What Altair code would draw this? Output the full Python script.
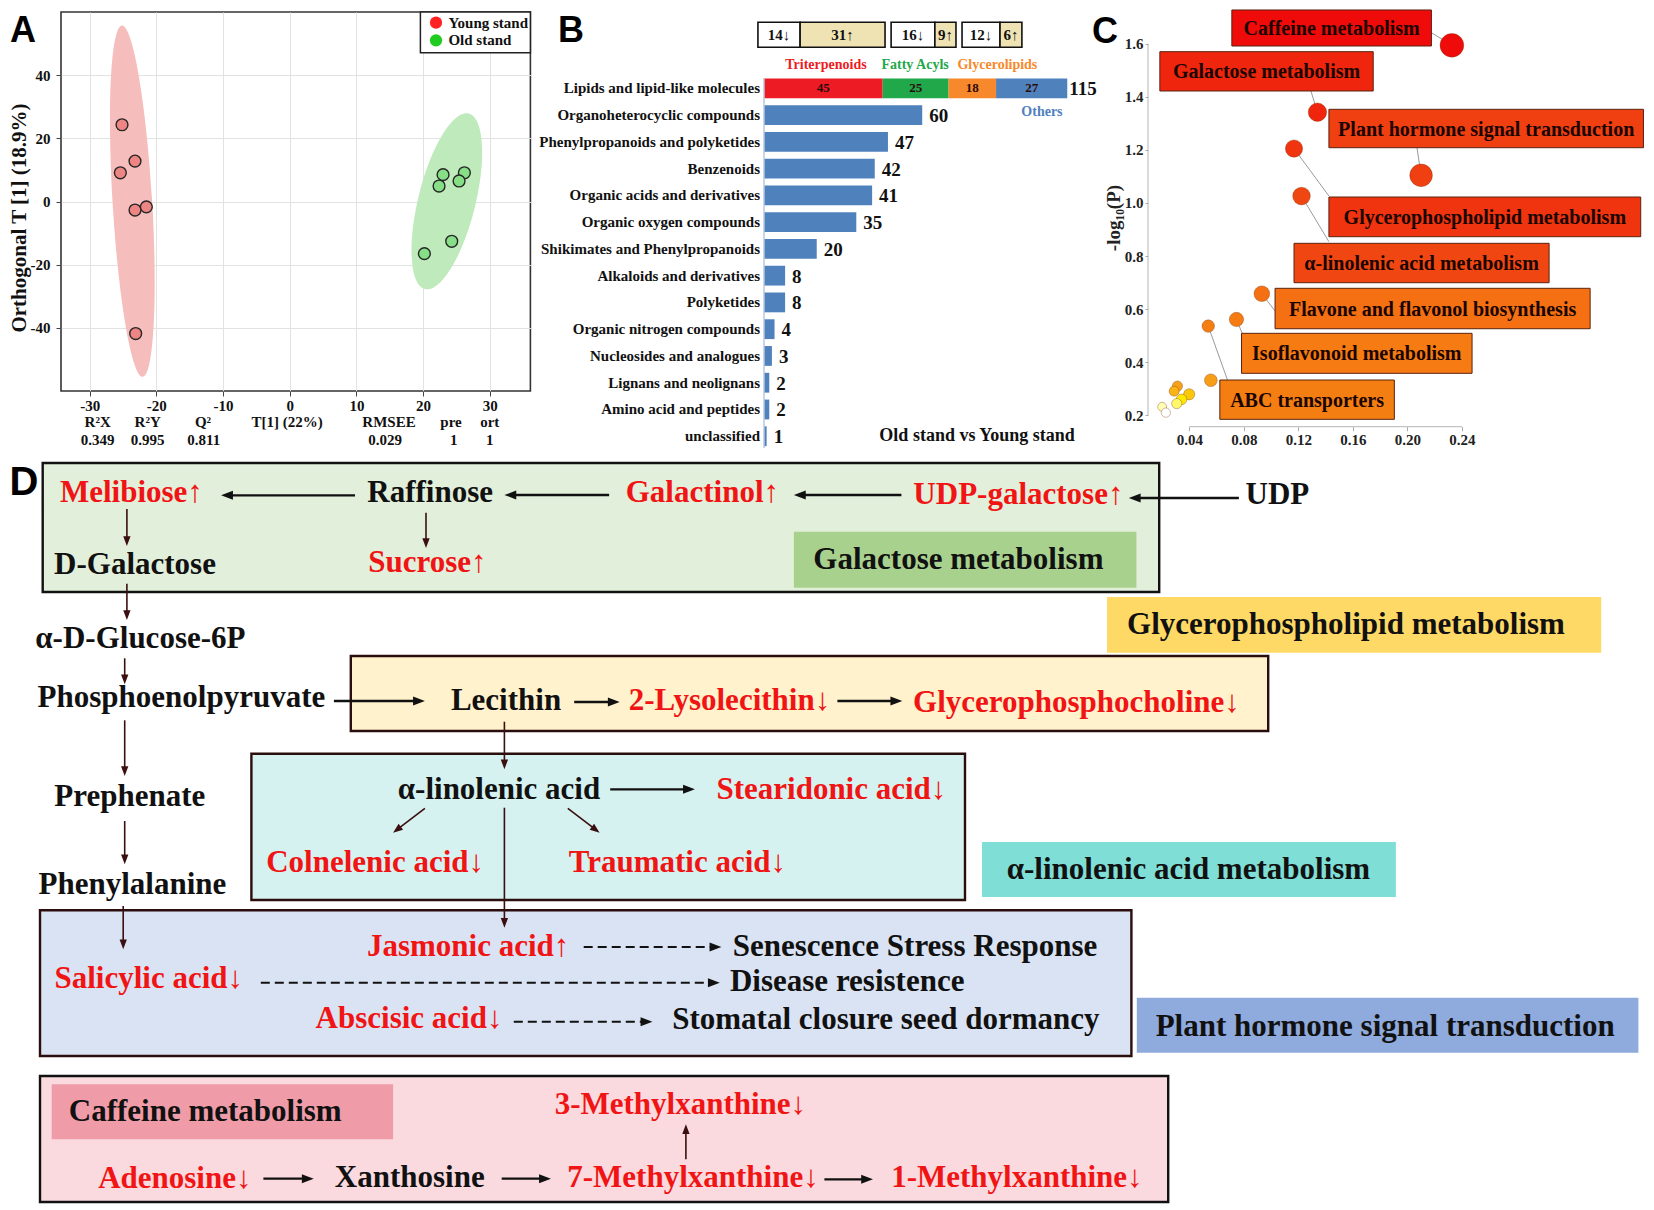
import math
import altair as alt
import pandas as pd

SERIF = "Liberation Serif"
SANS = "Liberation Sans"
TXT_RED = "#f01414"
TXT_DARK = "#111111"

# =====================================================================
# Panel A : OPLS-DA score plot
# =====================================================================
a_groups = ["Young stand", "Old stand"]
a_young_t1 = [-25.15, -25.4, -23.2, -23.2, -21.5, -23.1]
a_young_to = [24.3, 9.1, 12.8, -2.7, -1.7, -41.8]
a_old_t1 = [23.0, 22.4, 26.2, 25.4, 24.3, 20.2]
a_old_to = [8.5, 4.9, 9.1, 6.5, -12.6, -16.5]
a_ell_t1 = [-23.6, 23.57]
a_ell_to = [0.13, 0.06]
a_stat_names = ["R²X", "R²Y", "Q²", "T[1] (22%)", "RMSEE", "pre", "ort"]
a_stat_name_pos = [-28.8, -21.3, -13.0, -0.4, 14.9, 24.2, 30.0]
a_stat_values = ["0.349", "0.995", "0.811", "0.029", "1", "1"]
a_stat_value_pos = [-28.8, -21.3, -12.9, 14.3, 24.6, 30.0]
a_ytitle = "Orthogonal T [1] (18.9%)"

# =====================================================================
# Panel B : classification of differential metabolites
# =====================================================================
b_cats = ["Lipids and lipid-like molecules", "Organoheterocyclic compounds",
          "Phenylpropanoids and polyketides", "Benzenoids",
          "Organic acids and derivatives", "Organic oxygen compounds",
          "Shikimates and Phenylpropanoids", "Alkaloids and derivatives",
          "Polyketides", "Organic nitrogen compounds", "Nucleosides and analogues",
          "Lignans and neolignans", "Amino acid and peptides", "unclassified"]
b_counts = [115, 60, 47, 42, 41, 35, 20, 8, 8, 4, 3, 2, 2, 1]
b_lipid_sub = ["Triterpenoids", "Fatty Acyls", "Glycerolipids", "Others"]
b_lipid_counts = [45, 25, 18, 27]
b_lipid_down = [14, 16, 12]
b_lipid_up = [31, 9, 6]
b_comparison = "Old stand vs Young stand"

# =====================================================================
# Panel C : KEGG enrichment bubbles
# =====================================================================
c_names = ["Caffeine metabolism", "Galactose metabolism",
           "Plant hormone signal transduction", "Glycerophospholipid metabolism",
           "α-linolenic acid metabolism", "Flavone and flavonol biosynthesis",
           "Isoflavonoid metabolism", "ABC transporters"]
c_impact = [0.2326, 0.134, 0.210, 0.1168, 0.1223, 0.0932, 0.0746, 0.0539]
c_logp = [1.594, 1.342, 1.104, 1.205, 1.026, 0.658, 0.561, 0.536]
c_other_impact = [0.0558, 0.0313, 0.0289, 0.0399, 0.0343, 0.0308, 0.0201, 0.0228]
c_other_logp = [0.332, 0.310, 0.291, 0.279, 0.260, 0.244, 0.232, 0.210]

# =====================================================================
# Panel D : pathway diagram (nodes, boxes, arrows) in diagram units
# =====================================================================
d_nodes = ["Melibiose↑", "Raffinose", "Galactinol↑", "UDP-galactose↑", "UDP",
           "D-Galactose", "Sucrose↑", "α-D-Glucose-6P", "Phosphoenolpyruvate",
           "Lecithin", "2-Lysolecithin↓", "Glycerophosphocholine↓", "Prephenate",
           "α-linolenic acid", "Stearidonic acid↓", "Colnelenic acid↓",
           "Traumatic acid↓", "Phenylalanine", "Jasmonic acid↑",
           "Senescence Stress Response", "Salicylic acid↓", "Disease resistence",
           "Abscisic acid↓", "Stomatal closure seed dormancy", "3-Methylxanthine↓",
           "Adenosine↓", "Xanthosine", "7-Methylxanthine↓", "1-Methylxanthine↓"]
d_node_x = [130, 428.7, 701, 1017, 1276, 133.6, 426, 139, 180, 504.6, 728, 1075,
            128.4, 497.6, 830, 373.7, 676, 131, 466.7, 913.6, 147.4, 845.8, 407.6,
            884.5, 679, 173.4, 408.4, 691.6, 1015.5]
d_node_y = [492, 492, 492, 494, 494, 564, 562, 638, 697, 700, 700, 702, 796,
            789, 789, 862, 862, 884, 946, 946, 977.5, 981, 1017.5, 1019,
            1104, 1177.5, 1177, 1177, 1177]
d_pathways = ["Galactose metabolism", "Glycerophospholipid metabolism",
              "α-linolenic acid metabolism", "Plant hormone signal transduction",
              "Caffeine metabolism"]
d_box_x0 = [41.3, 349.4, 250.0, 38.6, 38.6]
d_box_x1 = [1157.8, 1266.8, 963.6, 1130.0, 1166.8]
d_box_y0 = [462.0, 655.0, 752.7, 909.3, 1075.0]
d_box_y1 = [591.0, 730.0, 899.0, 1055.0, 1201.0]
d_tag_x0 = [792.5, 1105.6, 980.6, 1135.4, 50.3]
d_tag_x1 = [1135.0, 1599.8, 1394.5, 1637.0, 391.7]
d_tag_y0 = [530.7, 596.0, 841.0, 996.7, 1083.3]
d_tag_y1 = [586.7, 651.7, 896.0, 1051.7, 1138.3]
d_tag_text_x = [957, 1344.6, 1187, 1383.8, 203.8]
d_tag_text_y = [559, 624, 869, 1026, 1111]
d_arrow_x0 = [353.6, 607.7, 900, 1237.5, 125.5, 424.6, 125.5, 123.3, 332.5, 123.3,
              572.8, 836, 503, 608.8, 423.5, 566.4, 503, 123.3, 121.8, 582.3, 259.4,
              512.4, 684.5, 262, 500.3, 823]
d_arrow_y0 = [494.3, 494, 494, 497, 508, 511.7, 582.7, 657.3, 700, 719.3, 701, 700,
              720.7, 788.3, 807.3, 807.3, 806.7, 820, 905, 946, 981.7, 1020.7, 1158.3,
              1177.7, 1177.7, 1178.3]
d_arrow_x1 = [219.7, 503, 792.5, 1127.4, 125.5, 424.6, 125.5, 123.3, 423.5, 123.3,
              618.3, 900.9, 503, 693.5, 391.7, 598.2, 503, 123.3, 121.8, 720, 718.4,
              651, 684.5, 312.3, 549.5, 871.6]
d_arrow_y1 = [494.3, 494, 494, 497, 545, 547, 619, 683.3, 700, 775, 701, 700, 768.3,
              788.3, 831.7, 831.7, 926.7, 863.3, 948.3, 946, 981.7, 1020.7, 1123.3,
              1177.7, 1177.7, 1178.3]
d_arrow_kind = ["main", "main", "main", "main", "step", "step", "step", "step", "main",
                "step", "main", "main", "step", "main", "step", "step", "step", "step",
                "step", "dash", "dash", "dash", "step", "main", "main", "main"]

# =====================================================================
# Layout / style constants
# =====================================================================
A_W, A_H = 469.4, 379.0
A_LEFT, A_TOP = 59.6, 11.0
A_XDOM, A_YDOM = [-34.3, 36.1], [-60.0, 60.0]
B_W, B_H = 455.0, 447.0
B_XDOM = [-57.64, 114.9]
C_W, C_H = 496.0, 414.7
C_XDOM, C_YDOM = [0.00971, 0.3735], [0.157, 1.7194]
GAP = 81
LETTER_SIZE = 36

# ---------------------------------------------------------------------
# Panel A
# ---------------------------------------------------------------------
A_LAB = "datum.value < 0 ? '-' + abs(datum.value) : '' + datum.value"


def ax_x(field):
    return alt.X(f"{field}:Q", scale=alt.Scale(domain=A_XDOM, nice=False, zero=False),
                 axis=alt.Axis(values=[-30, -20, -10, 0, 10, 20, 30], title=None, grid=True,
                               gridColor="#e2e2e2", domain=False, ticks=True, tickSize=5,
                               tickColor="#444", labelFont=SERIF, labelFontWeight="bold",
                               labelFontSize=15, labelColor=TXT_DARK, labelPadding=2,
                               labelExpr=A_LAB))


def ax_y(field):
    return alt.Y(f"{field}:Q", scale=alt.Scale(domain=A_YDOM, nice=False, zero=False),
                 axis=alt.Axis(values=[-40, -20, 0, 20, 40], title=None, grid=True,
                               gridColor="#e2e2e2", domain=False, ticks=True, tickSize=5,
                               tickColor="#444", labelFont=SERIF, labelFontWeight="bold",
                               labelFontSize=15, labelColor=TXT_DARK, labelPadding=6,
                               labelExpr=A_LAB))


a_point_fill = ["#ee8585", "#86df86"]
a_legend_fill = ["#ff2222", "#1fcc1f"]
a_ell_fill = ["#f6bdbd", "#bfeabb"]
a_ell_major = [176.0, 90.4]
a_ell_minor = [19.8, 28.6]
a_ell_angle = [356.6, 14.0]

layers = []
for i in range(2):
    r = a_ell_minor[i] / a_ell_major[i]
    path = f"M 0 -1 A {r:.4f} 1 0 1 1 0 1 A {r:.4f} 1 0 1 1 0 -1 Z"
    df = pd.DataFrame({"t1": [a_ell_t1[i]], "to": [a_ell_to[i]]})
    layers.append(
        alt.Chart(df).mark_point(shape=path, filled=True, fill=a_ell_fill[i], opacity=1,
                                 strokeWidth=0, size=(2 * a_ell_major[i]) ** 2,
                                 angle=a_ell_angle[i])
        .encode(x=ax_x("t1"), y=ax_y("to")))

a_pts = pd.DataFrame({"t1": a_young_t1 + a_old_t1, "to": a_young_to + a_old_to,
                      "grp": [a_groups[0]] * len(a_young_t1) + [a_groups[1]] * len(a_old_t1)})
layers.append(
    alt.Chart(a_pts).mark_circle(size=140, opacity=1, stroke="#262626", strokeWidth=1.4)
    .encode(x=ax_x("t1"), y=ax_y("to"),
            fill=alt.Fill("grp:N", scale=alt.Scale(domain=a_groups, range=a_point_fill), legend=None)))

one = pd.DataFrame({"k": [0]})
layers.append(alt.Chart(one).mark_rect(fill="white", stroke="#222", strokeWidth=1.5)
              .encode(x=alt.value(359.4), x2=alt.value(A_W), y=alt.value(0), y2=alt.value(40.7)))
for i, g in enumerate(a_groups):
    yy = 10.7 + 17.6 * i
    gdf = pd.DataFrame({"g": [g]})
    layers.append(alt.Chart(gdf).mark_circle(size=150, opacity=1, color=a_legend_fill[i])
                  .encode(x=alt.value(375), y=alt.value(yy)))
    layers.append(alt.Chart(gdf).mark_text(align="left", baseline="middle", font=SERIF,
                                           fontWeight="bold", fontSize=15, color=TXT_DARK)
                  .encode(x=alt.value(387.4), y=alt.value(yy), text="g:N"))

layers.append(alt.Chart(pd.DataFrame({"sx": a_stat_name_pos, "lab": a_stat_names}))
              .mark_text(font=SERIF, fontWeight="bold", fontSize=15, color=TXT_DARK, baseline="middle")
              .encode(x=ax_x("sx"), y=alt.value(A_H + 30.7), text="lab:N"))
layers.append(alt.Chart(pd.DataFrame({"sx": a_stat_value_pos, "lab": a_stat_values}))
              .mark_text(font=SERIF, fontWeight="bold", fontSize=15, color=TXT_DARK, baseline="middle")
              .encode(x=ax_x("sx"), y=alt.value(A_H + 49.3), text="lab:N"))
layers.append(alt.Chart(pd.DataFrame({"t": [a_ytitle]}))
              .mark_text(font=SERIF, fontWeight="bold", fontSize=21, color=TXT_DARK, angle=270,
                         align="center", baseline="middle")
              .encode(x=alt.value(-41), y=alt.value(206), text="t:N"))
layers.append(alt.Chart(pd.DataFrame({"t": ["A"]}))
              .mark_text(font=SANS, fontWeight="bold", fontSize=LETTER_SIZE, color="#000", align="left",
                         baseline="alphabetic")
              .encode(x=alt.value(-51), y=alt.value(30), text="t:N"))

# ---------------------------------------------------------------------
# Panel D: diagram units are page pixels; Vega-Lite converts them into
# panel A's data space, so everything shares A's scales.
# ---------------------------------------------------------------------
KX = (A_XDOM[1] - A_XDOM[0]) / A_W
KY = (A_YDOM[1] - A_YDOM[0]) / A_H


def to_a(chart, xs, ys):
    calc = {}
    for f in xs:
        calc["a_" + f] = f"{A_XDOM[0]} + (datum['{f}'] - {A_LEFT}) * {KX}"
    for f in ys:
        calc["a_" + f] = f"{A_YDOM[1]} - (datum['{f}'] - {A_TOP}) * {KY}"
    return chart.transform_calculate(**calc)


d_box_fill = ["#e2efda", "#fff2cc", "#d5f2f0", "#dae3f3", "#fadadf"]
d_box_stroke = ["#111111", "#2b0d0d", "#2b0d0d", "#2b0d0d", "#111111"]
d_tag_fill = ["#a9d18e", "#ffd966", "#7fded6", "#8faadc", "#f09ca8"]

boxes = pd.DataFrame({"x0": d_box_x0, "x1": d_box_x1, "y0": d_box_y0, "y1": d_box_y1,
                      "fill": d_box_fill, "stroke": d_box_stroke})
layers.append(to_a(alt.Chart(boxes), ["x0", "x1"], ["y0", "y1"]).mark_rect(strokeWidth=2.4)
              .encode(x=ax_x("a_x0"), x2="a_x1:Q", y=ax_y("a_y0"), y2="a_y1:Q",
                      fill=alt.Fill("fill:N", scale=None), stroke=alt.Stroke("stroke:N", scale=None)))
tags = pd.DataFrame({"x0": d_tag_x0, "x1": d_tag_x1, "y0": d_tag_y0, "y1": d_tag_y1,
                     "fill": d_tag_fill, "tx": d_tag_text_x, "ty": d_tag_text_y, "name": d_pathways})
layers.append(to_a(alt.Chart(tags), ["x0", "x1"], ["y0", "y1"]).mark_rect()
              .encode(x=ax_x("a_x0"), x2="a_x1:Q", y=ax_y("a_y0"), y2="a_y1:Q",
                      fill=alt.Fill("fill:N", scale=None)))
layers.append(to_a(alt.Chart(tags), ["tx"], ["ty"])
              .mark_text(font=SERIF, fontWeight="bold", fontSize=31, color=TXT_DARK,
                         baseline="middle", align="center")
              .encode(x=ax_x("a_tx"), y=ax_y("a_ty"), text="name:N"))

nodes = pd.DataFrame({"x": d_node_x, "y": d_node_y, "name": d_nodes})
nodes["col"] = [TXT_RED if ("↑" in n or "↓" in n) else TXT_DARK for n in d_nodes]
layers.append(to_a(alt.Chart(nodes), ["x"], ["y"])
              .mark_text(font=SERIF, fontWeight="bold", fontSize=31, baseline="middle", align="center")
              .encode(x=ax_x("a_x"), y=ax_y("a_y"), text="name:N", color=alt.Color("col:N", scale=None)))

HEAD_SIZE = {"main": 140, "step": 95, "dash": 140}
ARROW_COL = {"main": "#111111", "step": "#3b0f0f", "dash": "#111111"}
ARROW_W = {"main": 2.3, "step": 1.6, "dash": 2.0}
head_path = "M 0 -1 L 0.75 1 L -0.75 1 Z"
line_rows, head_rows = [], []
for x0, y0, x1, y1, k in zip(d_arrow_x0, d_arrow_y0, d_arrow_x1, d_arrow_y1, d_arrow_kind):
    L = math.hypot(x1 - x0, y1 - y0)
    ux, uy = (x1 - x0) / L, (y1 - y0) / L
    h = math.sqrt(HEAD_SIZE[k]) / 2
    hx, hy = x1 - h * ux, y1 - h * uy
    ang = (math.degrees(math.atan2(ux, -uy)) + 360) % 360
    line_rows.append({"x": x0, "y": y0, "xe": hx, "ye": hy, "kind": k})
    head_rows.append({"x": hx, "y": hy, "ang": ang, "kind": k})
lines = pd.DataFrame(line_rows)
heads = pd.DataFrame(head_rows)
for k in ["main", "step", "dash"]:
    lk = lines[lines.kind == k].reset_index(drop=True)
    hk = heads[heads.kind == k].reset_index(drop=True)
    if k == "dash":
        base = alt.Chart(lk).mark_rule(color=ARROW_COL[k], strokeWidth=ARROW_W[k], strokeDash=[9, 5])
    else:
        base = alt.Chart(lk).mark_rule(color=ARROW_COL[k], strokeWidth=ARROW_W[k])
    layers.append(to_a(base, ["x", "xe"], ["y", "ye"])
                  .encode(x=ax_x("a_x"), y=ax_y("a_y"), x2="a_xe:Q", y2="a_ye:Q"))
    layers.append(to_a(alt.Chart(hk), ["x"], ["y"])
                  .mark_point(shape=head_path, filled=True, opacity=1, color=ARROW_COL[k], size=HEAD_SIZE[k])
                  .encode(x=ax_x("a_x"), y=ax_y("a_y"), angle=alt.Angle("ang:Q", scale=None)))
layers.append(to_a(alt.Chart(pd.DataFrame({"x": [8.0], "y": [494.0], "t": ["D"]})), ["x"], ["y"])
              .mark_text(font=SANS, fontWeight="bold", fontSize=40, color="#000", align="left",
                         baseline="alphabetic")
              .encode(x=ax_x("a_x"), y=ax_y("a_y"), text="t:N"))

panel_a = alt.layer(*layers).properties(width=A_W, height=A_H,
                                        view=alt.ViewBackground(stroke="#333", strokeWidth=1.6))

# ---------------------------------------------------------------------
# Panel B
# ---------------------------------------------------------------------
b_rows = ["_box", "_lab"] + b_cats
b_bar_color = "#4f81bd"
b_lipid_colors = ["#ed1c24", "#21a84a", "#f7882b", "#4f81bd"]
b_tan = "#efe3b3"
b_box_edges = [[-2.3, 13.7, 45.9], [48.2, 64.8, 72.8], [75.1, 89.5, 97.8]]
b_sub_label_pos = [23.5, 57.3, 88.5, 105.4]
b_comparison_pos = 80.8


def bx(field):
    return alt.X(f"{field}:Q", scale=alt.Scale(domain=B_XDOM, nice=False, zero=False), axis=None)


def by(field):
    return alt.Y(f"{field}:N", scale=alt.Scale(domain=b_rows, paddingInner=0.26, paddingOuter=0.48),
                 axis=None)


b_layers = []
rest = pd.DataFrame({"cat": b_cats[1:], "v": b_counts[1:]})
b_layers.append(alt.Chart(rest).mark_bar(color=b_bar_color).encode(x=bx("v"), y=by("cat")))

starts = [sum(b_lipid_counts[:i]) for i in range(len(b_lipid_counts))]
lip = pd.DataFrame({"cat": [b_cats[0]] * 4, "x0": starts,
                    "x1": [s + c for s, c in zip(starts, b_lipid_counts)],
                    "mid": [s + c / 2 for s, c in zip(starts, b_lipid_counts)],
                    "lab": [str(c) for c in b_lipid_counts], "col": b_lipid_colors})
b_layers.append(alt.Chart(lip).mark_bar().encode(x=bx("x0"), x2="x1:Q", y=by("cat"),
                                                 color=alt.Color("col:N", scale=None)))
b_layers.append(alt.Chart(lip).mark_text(font=SERIF, fontWeight="bold", fontSize=13, color="#2a0a0a",
                                         baseline="middle")
                .encode(x=bx("mid"), y=by("cat"), text="lab:N"))

vals = pd.DataFrame({"cat": b_cats, "v": b_counts, "lab": [str(v) for v in b_counts],
                     "zero": [0] * len(b_cats)})
b_layers.append(alt.Chart(vals.iloc[1:]).mark_text(font=SERIF, fontWeight="bold", fontSize=19, color=TXT_DARK,
                                                   align="left", baseline="middle", dx=7, dy=1)
                .encode(x=bx("v"), y=by("cat"), text="lab:N"))
b_layers.append(alt.Chart(vals.iloc[:1]).mark_text(font=SERIF, fontWeight="bold", fontSize=19, color=TXT_DARK,
                                                   align="left", baseline="middle", dx=2, dy=1)
                .encode(x=bx("v"), y=by("cat"), text="lab:N"))
b_layers.append(alt.Chart(vals).mark_text(font=SERIF, fontWeight="bold", fontSize=15, color=TXT_DARK,
                                          align="right", baseline="middle", dx=-4)
                .encode(x=bx("zero"), y=by("cat"), text="cat:N"))
b_layers.append(alt.Chart(pd.DataFrame({"zero": [0]})).mark_rule(color="#b9c9e0", strokeWidth=1.5)
                .encode(x=bx("zero"), y=alt.value(66), y2=alt.value(436)))

sub = pd.DataFrame({"cat": ["_lab", "_lab", "_lab"], "x": b_sub_label_pos[:3], "lab": b_lipid_sub[:3],
                    "col": b_lipid_colors[:3]})
b_layers.append(alt.Chart(sub).mark_text(font=SERIF, fontWeight="bold", fontSize=14, baseline="middle", dy=3)
                .encode(x=bx("x"), y=by("cat"), text="lab:N", color=alt.Color("col:N", scale=None)))
oth = pd.DataFrame({"cat": [b_cats[1]], "x": [b_sub_label_pos[3]], "lab": [b_lipid_sub[3]]})
b_layers.append(alt.Chart(oth).mark_text(font=SERIF, fontWeight="bold", fontSize=14, baseline="middle", dy=-3,
                                         color=b_lipid_colors[3])
                .encode(x=bx("x"), y=by("cat"), text="lab:N"))

cell_rows = []
for g in range(3):
    e = b_box_edges[g]
    cell_rows.append({"cat": "_box", "x0": e[0], "x1": e[1], "mid": (e[0] + e[1]) / 2,
                      "lab": f"{b_lipid_down[g]}↓", "fill": "#ffffff"})
    cell_rows.append({"cat": "_box", "x0": e[1], "x1": e[2], "mid": (e[1] + e[2]) / 2,
                      "lab": f"{b_lipid_up[g]}↑", "fill": b_tan})
cells = pd.DataFrame(cell_rows)
b_layers.append(alt.Chart(cells).mark_bar(size=25, stroke="#111", strokeWidth=1.6)
                .encode(x=bx("x0"), x2="x1:Q", y=by("cat"), fill=alt.Fill("fill:N", scale=None)))
b_layers.append(alt.Chart(cells).mark_text(font=SERIF, fontWeight="bold", fontSize=15, color=TXT_DARK,
                                           baseline="middle")
                .encode(x=bx("mid"), y=by("cat"), text="lab:N"))
b_layers.append(alt.Chart(pd.DataFrame({"cat": [b_cats[-1]], "x": [b_comparison_pos], "t": [b_comparison]}))
                .mark_text(font=SERIF, fontWeight="bold", fontSize=18, color=TXT_DARK, baseline="middle")
                .encode(x=bx("x"), y=by("cat"), text="t:N"))
b_layers.append(alt.Chart(pd.DataFrame({"t": ["B"]}))
                .mark_text(font=SANS, fontWeight="bold", fontSize=LETTER_SIZE, color="#000", align="left",
                           baseline="alphabetic")
                .encode(x=alt.value(-54), y=alt.value(30), text="t:N"))
panel_b = alt.layer(*b_layers).properties(width=B_W, height=B_H)

# ---------------------------------------------------------------------
# Panel C
# ---------------------------------------------------------------------
c_box_x0 = [0.0712, 0.0184, 0.1424, 0.1424, 0.1168, 0.1029, 0.0783, 0.0624]
c_box_x1 = [0.2176, 0.1749, 0.3731, 0.3711, 0.3039, 0.3340, 0.2474, 0.1904]
c_box_y0 = [1.727, 1.5699, 1.3528, 1.0224, 0.8479, 0.6784, 0.5088, 0.3329]
c_box_y1 = [1.5913, 1.4218, 1.2081, 0.8728, 0.6995, 0.5261, 0.3581, 0.1848]
c_anchor_x = [0.2176, 0.1292, 0.2070, 0.1424, 0.1424, 0.1029, 0.0790, 0.0680]
c_anchor_y = [1.6414, 1.4218, 1.2081, 1.0261, 0.8540, 0.5928, 0.5062, 0.3329]
c_col_dom = [0.21, 0.235, 0.26, 0.30, 0.55, 1.0, 1.6]
c_col_rng = ["#ffffff", "#ffffa6", "#ffe800", "#f7a31a", "#f57c12", "#f04a12", "#ee0a0a"]


def c_fill():
    return alt.Scale(domain=c_col_dom, range=c_col_rng, interpolate="rgb")


def cx(field):
    return alt.X(f"{field}:Q", scale=alt.Scale(domain=C_XDOM, nice=False, zero=False),
                 axis=alt.Axis(values=[0.04, 0.08, 0.12, 0.16, 0.20, 0.24], format=".2f", title=None,
                               grid=False, domain=False, ticks=True, tickSize=4, tickColor="#aaa",
                               labelFont=SERIF, labelFontWeight="bold", labelFontSize=15,
                               labelColor="#222", labelPadding=2))


def cy(field):
    return alt.Y(f"{field}:Q", scale=alt.Scale(domain=C_YDOM, nice=False, zero=False),
                 axis=alt.Axis(values=[0.2, 0.4, 0.6, 0.8, 1.0, 1.2, 1.4, 1.6], format=".1f", title=None,
                               grid=False, domain=False, ticks=True, tickSize=3, tickColor="#aaa",
                               labelFont=SERIF, labelFontWeight="bold", labelFontSize=15,
                               labelColor="#222", labelPadding=2))


c_layers = []
c_layers.append(alt.Chart(pd.DataFrame({"lp": [0.2], "lp2": [1.6]})).mark_rule(color="#b5b5b5", strokeWidth=1)
                .encode(x=alt.value(0), y=cy("lp"), y2="lp2:Q"))
c_layers.append(alt.Chart(pd.DataFrame({"imp": [0.04], "imp2": [0.24]})).mark_rule(color="#b5b5b5", strokeWidth=1)
                .encode(y=alt.value(C_H), x=cx("imp"), x2="imp2:Q"))
lead = pd.DataFrame({"imp": c_impact, "lp": c_logp, "ax": c_anchor_x, "ay": c_anchor_y})
c_layers.append(alt.Chart(lead).mark_rule(color="#9a9a9a", strokeWidth=1)
                .encode(x=cx("imp"), y=cy("lp"), x2="ax:Q", y2="ay:Q"))
pts = pd.DataFrame({"imp": c_impact + c_other_impact, "lp": c_logp + c_other_logp})
c_layers.append(alt.Chart(pts).mark_circle(opacity=1, stroke="#7a3510", strokeWidth=0.6, strokeOpacity=0.6)
                .encode(x=cx("imp"), y=cy("lp"),
                        fill=alt.Fill("lp:Q", scale=c_fill(), legend=None),
                        size=alt.Size("imp:Q", scale=alt.Scale(domain=[0, 0.24], range=[34, 580]), legend=None)))
labs = pd.DataFrame({"bx0": c_box_x0, "bx1": c_box_x1, "by0": c_box_y0, "by1": c_box_y1, "lp": c_logp,
                     "tx": [(a + b) / 2 for a, b in zip(c_box_x0, c_box_x1)],
                     "ty": [(a + b) / 2 for a, b in zip(c_box_y0, c_box_y1)], "name": c_names})
c_layers.append(alt.Chart(labs).mark_rect(stroke="#5a2410", strokeWidth=1)
                .encode(x=cx("bx0"), x2="bx1:Q", y=cy("by0"), y2="by1:Q",
                        fill=alt.Fill("lp:Q", scale=c_fill(), legend=None)))
c_layers.append(alt.Chart(labs).mark_text(font=SERIF, fontWeight="bold", fontSize=20, color="#1a0500",
                                          baseline="middle", dy=1)
                .encode(x=cx("tx"), y=cy("ty"), text="name:N"))
c_layers.append(alt.Chart(pd.DataFrame({"t": ["-log₁₀(P)"]}))
                .mark_text(font=SERIF, fontWeight="bold", fontSize=19, color="#222", angle=270,
                           align="center", baseline="middle")
                .encode(x=alt.value(-34), y=alt.value(206), text="t:N"))
c_layers.append(alt.Chart(pd.DataFrame({"t": ["C"]}))
                .mark_text(font=SANS, fontWeight="bold", fontSize=LETTER_SIZE, color="#000", align="left",
                           baseline="alphabetic")
                .encode(x=alt.value(-56), y=alt.value(31), text="t:N"))
panel_c = alt.layer(*c_layers).properties(width=C_W, height=C_H)

chart = (alt.hconcat(panel_a, panel_b, panel_c, spacing=GAP, bounds="flush")
         .properties(padding=0, background="white")
         .configure_view(stroke="transparent"))

chart.save("out.html", embed_options={"renderer": "svg", "actions": False})
